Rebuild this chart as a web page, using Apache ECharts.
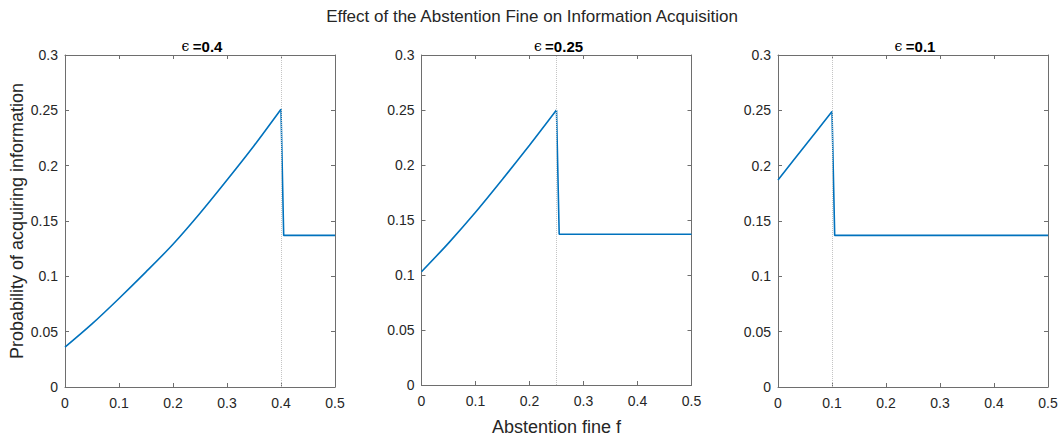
<!DOCTYPE html>
<html>
<head>
<meta charset="utf-8">
<script src="https://cdn.jsdelivr.net/npm/echarts@6/dist/echarts.min.js"></script>
<style>html,body{margin:0;padding:0;background:#fff;}#chart{width:1062px;height:441px;}</style>
</head>
<body>
<div id="chart"></div>
<script>
// ---- data ----
const mainTitle = 'Effect of the Abstention Fine on Information Acquisition';
const xAxisTitle = 'Abstention fine f';
const yAxisTitle = 'Probability of acquiring information';
const epsilons = [0.4, 0.25, 0.1];
const epsLabels = ['0.4', '0.25', '0.1'];
const xTicks = [0, 0.1, 0.2, 0.3, 0.4, 0.5];
const yTicks = [0, 0.05, 0.1, 0.15, 0.2, 0.25, 0.3];

// rising part (f from 0 to epsilon)
const fine1 = [0, 0.05, 0.1, 0.15, 0.2, 0.25, 0.3, 0.35, 0.4];
const prob1 = [0.036, 0.057, 0.080, 0.104, 0.129, 0.157, 0.187, 0.218, 0.251];
const fine2 = [0, 0.05, 0.1, 0.15, 0.2, 0.25];
const prob2 = [0.103, 0.129, 0.157, 0.187, 0.218, 0.250];
const fine3 = [0, 0.05, 0.1];
const prob3 = [0.187, 0.218, 0.249];
// after the drop
const dropFine1 = [0.4, 0.405, 0.5];
const dropProb1 = [0.251, 0.137, 0.137];
const dropFine2 = [0.25, 0.255, 0.5];
const dropProb2 = [0.250, 0.137, 0.137];
const dropFine3 = [0.1, 0.105, 0.5];
const dropProb3 = [0.249, 0.137, 0.137];

const rising = [[fine1, prob1], [fine2, prob2], [fine3, prob3]];
const drops = [[dropFine1, dropProb1], [dropFine2, dropProb2], [dropFine3, dropProb3]];

// ---- layout ----
const FONT = '"Liberation Sans", Arial, Helvetica, sans-serif';
const gridLefts = [65, 421.5, 778];
const gridW = 270, gridTop = 55, gridH = 332;
const axisColor = '#6e6e6e';
const textColor = '#262626';
const lineColor = '#0072BD';

const grids = [], xAxes = [], yAxes = [], series = [], graphics = [];
const zip = (a, b) => a.map((v, i) => [v, b[i]]);

gridLefts.forEach((left, i) => {
  grids.push({ left: left, top: gridTop, width: gridW, height: gridH, containLabel: false });
  const base = {
    gridIndex: i, type: 'value', min: 0, max: 0.5, interval: 0.1,
    axisLine: { show: true, onZero: false, lineStyle: { color: axisColor, width: 1 } },
    axisTick: { show: true, inside: true, length: 4, lineStyle: { color: axisColor } },
    splitLine: { show: false }
  };
  xAxes.push(Object.assign({}, base, {
    position: 'bottom',
    axisLabel: { show: true, color: textColor, fontSize: 14, fontFamily: FONT, margin: 9,
      formatter: v => (xTicks.includes(Math.round(v * 10) / 10) ? String(Math.round(v * 10) / 10) : '') },
    name: i === 1 ? xAxisTitle : '', nameLocation: 'middle', nameGap: 33,
    nameTextStyle: { color: textColor, fontSize: 18, fontFamily: FONT }
  }));
  xAxes.push(Object.assign({}, base, { position: 'top', axisLabel: { show: false } }));
  const ybase = {
    gridIndex: i, type: 'value', min: 0, max: 0.3, interval: 0.05,
    axisLine: { show: true, onZero: false, lineStyle: { color: axisColor, width: 1 } },
    axisTick: { show: true, inside: true, length: 4, lineStyle: { color: axisColor } },
    splitLine: { show: false }
  };
  yAxes.push(Object.assign({}, ybase, {
    position: 'left',
    axisLabel: { show: true, color: textColor, fontSize: 14, fontFamily: FONT, margin: 7,
      formatter: v => String(Math.round(v * 100) / 100) },
    name: i === 0 ? yAxisTitle : '', nameLocation: 'middle', nameGap: 39, nameRotate: 90,
    nameTextStyle: { color: textColor, fontSize: 18, fontFamily: FONT }
  }));
  yAxes.push(Object.assign({}, ybase, { position: 'right', axisLabel: { show: false } }));

  series.push({
    type: 'line', xAxisIndex: 2 * i, yAxisIndex: 2 * i,
    data: zip(rising[i][0], rising[i][1]), smooth: 0.3, showSymbol: false, symbol: 'none',
    lineStyle: { color: lineColor, width: 1.6 }, z: 3, animation: false,
    markLine: {
      silent: true, symbol: 'none', label: { show: false },
      lineStyle: { color: '#c4c4c4', type: 'dotted', width: 1 },
      data: [{ xAxis: epsilons[i] }], animation: false
    }
  });
  series.push({
    type: 'line', xAxisIndex: 2 * i, yAxisIndex: 2 * i,
    data: zip(drops[i][0], drops[i][1]), smooth: false, showSymbol: false, symbol: 'none',
    lineStyle: { color: lineColor, width: 1.6 }, z: 3, animation: false
  });

  graphics.push({
    type: 'text', x: left + gridW / 2 + 2, y: 46,
    style: {
      text: '{e|ϵ} {b|=' + epsLabels[i] + '}', align: 'center', verticalAlign: 'middle',
      rich: {
        e: { fontSize: 14, fontFamily: '"DejaVu Serif", "DejaVu Sans", serif', fill: '#000' },
        b: { fontSize: 15, fontWeight: 'bold', fontFamily: FONT, fill: '#000' }
      }
    }
  });
});

graphics.push({
  type: 'text', x: 532, y: 16,
  style: { text: mainTitle, align: 'center', verticalAlign: 'middle', fontSize: 17, fontFamily: FONT, fill: textColor }
});

const chart = echarts.init(document.getElementById('chart'), null, { renderer: 'svg' });
chart.setOption({
  backgroundColor: '#ffffff',
  animation: false,
  grid: grids,
  xAxis: xAxes,
  yAxis: yAxes,
  series: series,
  graphic: graphics
});
</script>
</body>
</html>
